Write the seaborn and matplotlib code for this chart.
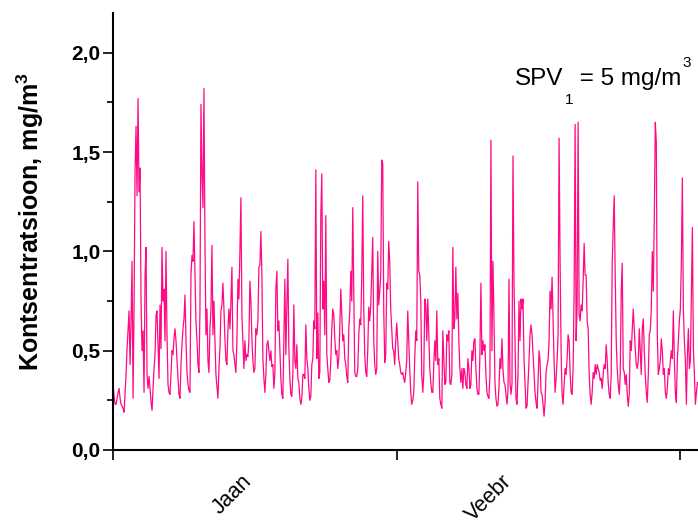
import numpy as np
import pandas as pd
import matplotlib
matplotlib.use("Agg")
import matplotlib.pyplot as plt
import seaborn as sns
from matplotlib.ticker import MultipleLocator, FixedLocator, FuncFormatter, NullFormatter

# Concentration record (mg/m3), evenly sampled within each month
conc_jaan = [
    0.32, 0.27, 0.23, 0.23, 0.26, 0.29, 0.31, 0.26, 0.23, 0.22, 0.21, 0.19,
    0.29, 0.38, 0.51, 0.61, 0.70, 0.43, 0.65, 0.95, 0.26, 0.71, 1.40, 1.63,
    1.28, 1.77, 1.30, 1.42, 0.75, 0.50, 0.60, 0.29, 0.88, 1.02, 0.38, 0.31,
    0.37, 0.31, 0.24, 0.20, 0.31, 0.41, 0.48, 0.68, 0.70, 0.53, 0.36, 0.73,
    0.51, 1.02, 0.75, 0.81, 0.55, 1.00, 0.58, 0.33, 0.29, 0.28, 0.38, 0.50,
    0.48, 0.56, 0.61, 0.55, 0.45, 0.36, 0.28, 0.26, 0.43, 0.53, 0.61, 0.66,
    0.78, 0.55, 0.39, 0.33, 0.30, 0.29, 0.88, 0.98, 0.95, 1.15, 0.88, 0.65,
    0.55, 0.43, 0.39, 0.71, 1.74, 1.39, 1.22, 1.82, 1.05, 0.58, 0.71, 0.45,
    0.39, 0.61, 0.71, 1.03, 0.58, 0.75, 0.55, 0.38, 0.32, 0.26, 0.41, 0.51,
    0.70, 0.73, 0.84, 0.71, 0.56, 0.45, 0.43, 0.61, 0.71, 0.61, 0.75, 0.92,
    0.50, 0.48, 0.43, 0.39, 0.55, 0.86, 0.76, 1.00, 1.27, 0.68, 0.55, 0.41,
    0.55, 0.45, 0.48, 0.47, 0.55, 0.85, 0.75, 0.56, 0.45, 0.39, 0.41, 0.61,
    0.58, 0.65, 0.92, 0.93, 1.10, 0.88, 0.46, 0.36, 0.29, 0.38, 0.53, 0.55,
    0.50, 0.45, 0.50, 0.42, 0.43, 0.31, 0.38, 0.81, 0.90, 0.60, 0.65, 0.51,
    0.36, 0.28, 0.26, 0.55, 0.86, 0.48, 0.73, 0.96, 0.51, 0.36, 0.28, 0.27,
    0.38, 0.73, 0.45, 0.41, 0.53, 0.36, 0.34, 0.26, 0.23, 0.26, 0.38, 0.38, 0.36,
    0.63, 0.46, 0.41, 0.31, 0.25, 0.27, 0.43, 0.46, 0.65, 0.61, 1.41, 0.46,
    0.69, 0.36, 0.39, 1.18, 1.39, 0.71, 0.85, 0.58, 1.18, 0.48, 0.41, 0.34,
    0.35, 0.45, 0.61, 0.71, 0.68, 0.56, 0.48, 0.50, 0.41, 0.46, 0.61, 0.81,
    0.68, 0.55, 0.58, 0.46, 0.43, 0.37, 0.34, 0.61, 0.70, 0.90, 0.75, 1.22,
    0.80, 0.39, 0.37, 0.37, 0.41, 0.58, 0.66, 0.63, 0.88, 1.28, 0.71, 0.48,
    0.39, 0.37, 0.50, 0.72, 0.65, 0.73, 0.90, 1.07, 0.55, 0.43, 0.38, 0.41,
    1.00, 0.73, 0.80, 0.88, 1.46, 1.44, 0.71, 0.44, 0.48, 0.84, 0.81, 1.05,
    0.95, 0.71, 0.61, 0.51, 0.50, 0.43, 0.55,
]

conc_veebr = [
    0.64, 0.55, 0.46, 0.43, 0.39,
    0.38, 0.39, 0.36, 0.34, 0.39, 0.45, 0.70, 0.55, 0.41, 0.29, 0.23, 0.25,
    0.29, 0.46, 0.60, 0.55, 1.35, 0.90, 0.88, 0.75, 0.38, 0.29, 0.38, 0.76,
    0.73, 0.55, 0.76, 0.58, 0.41, 0.34, 0.29, 0.29, 0.43, 0.55, 0.45, 0.70,
    0.43, 0.46, 0.26, 0.23, 0.21, 0.60, 0.46, 0.33, 0.34, 0.58, 0.55, 0.60,
    0.34, 0.33, 0.38, 1.02, 0.61, 0.66, 0.92, 0.66, 0.79, 0.55, 0.41, 0.34,
    0.41, 0.31, 0.41, 0.39, 0.33, 0.31, 0.46, 0.41, 0.31, 0.33, 0.50, 0.45,
    0.55, 0.56, 0.41, 0.31, 0.28, 0.28, 0.48, 0.84, 0.48, 0.55, 0.50, 0.53,
    0.38, 0.29, 0.27, 0.26, 0.38, 1.56, 0.50, 0.95, 0.68, 0.34, 0.26, 0.22,
    0.23, 0.31, 0.46, 0.41, 0.56, 0.41, 0.34, 0.33, 0.28, 0.23, 0.29, 0.86,
    0.34, 0.28, 0.33, 1.48, 0.85, 0.55, 0.26, 0.23, 0.38, 0.75, 0.55, 0.76,
    0.71, 0.76, 0.46, 0.33, 0.21, 0.22, 0.33, 0.45, 0.58, 0.63, 0.58, 0.48,
    0.39, 0.29, 0.24, 0.21, 0.34, 0.50, 0.45, 0.29, 0.28, 0.23, 0.17, 0.24,
    0.39, 0.43, 0.45, 0.55, 0.80, 0.71, 0.87, 0.65, 0.45, 0.29, 0.36, 0.45,
    0.58, 1.57, 0.95, 0.50, 0.28, 0.23, 0.33, 0.41, 0.38, 0.46, 0.58, 0.55,
    0.39, 0.29, 0.28, 0.41, 0.80, 1.64, 0.55, 0.73, 1.65, 0.68, 0.65, 0.73,
    0.70, 0.85, 1.04, 0.88, 0.88, 0.65, 0.61, 0.39, 0.28, 0.23, 0.29, 0.39,
    0.36, 0.43, 0.38, 0.43, 0.41, 0.39, 0.35, 0.36, 0.31, 0.38, 0.43, 0.41,
    0.53, 0.45, 0.34, 0.28, 0.26, 0.38, 0.94, 1.12, 1.28, 0.88, 0.55, 0.41,
    0.33, 0.28, 0.38, 0.80, 0.94, 0.41, 0.39, 0.33, 0.38, 0.28, 0.22, 0.28,
    0.55, 0.50, 0.61, 0.71, 0.61, 0.51, 0.43, 0.41, 0.45, 0.61, 0.50, 0.38,
    0.61, 0.66, 0.50, 0.38, 0.29, 0.24, 0.38, 0.58, 0.60, 0.71, 1.00, 0.80,
    1.17, 1.65, 1.55, 0.58, 0.38, 0.41, 0.45, 0.56, 0.50, 0.38, 0.41, 0.29,
    0.26, 0.31, 0.41, 0.38, 0.45, 0.50, 0.46, 0.70, 0.46, 0.29, 0.24, 0.46,
    0.55, 0.65,
]

conc_marts = [
    0.71, 0.95, 1.37, 0.71, 0.55, 0.45, 0.23, 0.48, 0.61, 0.41,
    0.45, 0.78, 1.12, 0.51, 0.38, 0.23, 0.29, 0.34, 0.33,
]

month_labels = ["Jaan", "Veebr"]

# Month-based time axis: 0 = start of January, 1 = start of February, ...
step = 1.0 / len(conc_veebr)
t = np.concatenate([
    np.arange(len(conc_jaan)) / len(conc_jaan),
    1 + np.arange(len(conc_veebr)) * step,
    2 + np.arange(len(conc_marts)) * step,
])
df = pd.DataFrame({"kuu": t, "konts": conc_jaan + conc_veebr + conc_marts})

sns.set_theme(style="ticks")
plt.rcParams["font.family"] = ["Liberation Sans", "DejaVu Sans"]
plt.rcParams["mathtext.fontset"] = "custom"
plt.rcParams["mathtext.rm"] = "Liberation Sans"
plt.rcParams["mathtext.it"] = "Liberation Sans:italic"
plt.rcParams["mathtext.bf"] = "Liberation Sans:bold"

fig = plt.figure(figsize=(6.98, 5.22), dpi=100)
ax = fig.add_axes([0.162, 0.138, 0.894, 0.837])

sns.lineplot(data=df, x="kuu", y="konts", ax=ax, color="#ff0a84",
             linewidth=0.9, estimator=None, sort=False)

ax.set_xlim(0, 2.2)
ax.set_ylim(0, 2.2)

for side in ("top", "right"):
    ax.spines[side].set_visible(False)
for side in ("left", "bottom"):
    ax.spines[side].set_linewidth(1.5)
    ax.spines[side].set_color("black")

# x axis: month boundaries as ticks, month names between them
ax.xaxis.set_major_locator(FixedLocator([0, 1, 2]))
ax.xaxis.set_major_formatter(NullFormatter())
ax.xaxis.set_minor_locator(FixedLocator([0.45, 1.37]))
ax.set_xticklabels(month_labels, minor=True)
ax.tick_params(axis="x", which="major", direction="out", length=7, width=1.2, color="black")
ax.tick_params(axis="x", which="minor", length=0, pad=15, labelsize=15.5, labelcolor="black")
for lab in ax.get_xticklabels(minor=True):
    lab.set_rotation(45)
    lab.set_rotation_mode("anchor")
    lab.set_ha("right")
    lab.set_va("top")

# y axis
ax.yaxis.set_major_locator(MultipleLocator(0.5))
ax.yaxis.set_minor_locator(MultipleLocator(0.25))
ax.yaxis.set_major_formatter(FuncFormatter(lambda v, _: f"{v:.1f}".replace(".", ",")))
ax.tick_params(axis="y", which="major", direction="out", length=7, width=1.2,
               color="black", labelsize=15, labelcolor="black", pad=2)
ax.tick_params(axis="y", which="minor", direction="out", length=4.5, width=1.2, color="black")
for lab in ax.get_yticklabels():
    lab.set_fontweight("bold")

ax.set_xlabel("")
ax.set_ylabel(r"Kontsentratsioon, mg/m$^\mathbf{3}$", fontsize=18, fontweight="bold", color="black")
ax.yaxis.set_label_coords(-0.108, 0.522)

# Limit-value note: SPV with a lowered index and raised exponent
note = fig.text(0.738, 0.837, "SPV", fontsize=17.5, ha="left", va="baseline", color="black")
sub = ax.annotate("1", xy=(1, 0), xycoords=note, xytext=(1, -2),
                  textcoords="offset points", fontsize=11, ha="left", va="top", color="black")
rest = ax.annotate(" = 5 mg/m", xy=(1, 0), xycoords=(sub, note), xytext=(0, 0),
                   textcoords="offset points", fontsize=17.5, ha="left", va="bottom", color="black")
sup = ax.annotate("3", xy=(1, 1), xycoords=rest, xytext=(0.5, 9),
                  textcoords="offset points", fontsize=11, ha="left", va="top", color="black")

fig.savefig("out.png", dpi=100)
